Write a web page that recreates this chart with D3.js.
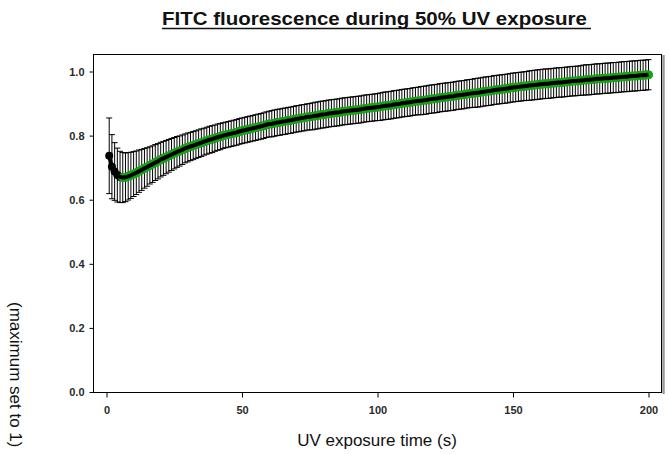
<!DOCTYPE html>
<html lang="en">
<head>
  <meta charset="UTF-8" />
  <title>FITC fluorescence</title>
  <script src="https://cdn.jsdelivr.net/npm/d3@7"></script>
  <style>
    body { margin: 0; background: #fff; }
    text { font-family: "Liberation Sans", Arial, sans-serif; }
  </style>
</head>
<body>
  <div id="chart"></div>
  <script>
    // mean fluorescence (normalised), one value per second, t = 1..200
    var means = [
      0.737, 0.703, 0.688, 0.677, 0.671, 0.669, 0.670, 0.673, 0.676, 0.680,
      0.684, 0.689, 0.693, 0.698, 0.702, 0.707, 0.711, 0.716, 0.720, 0.725,
      0.729, 0.733, 0.737, 0.741, 0.745, 0.749, 0.752, 0.756, 0.760, 0.763,
      0.766, 0.769, 0.772, 0.775, 0.778, 0.781, 0.784, 0.787, 0.789, 0.792,
      0.795, 0.797, 0.800, 0.802, 0.804, 0.806, 0.808, 0.810, 0.813, 0.815,
      0.817, 0.819, 0.821, 0.823, 0.825, 0.827, 0.829, 0.831, 0.834, 0.836,
      0.837, 0.839, 0.841, 0.842, 0.844, 0.845, 0.847, 0.848, 0.850, 0.852,
      0.853, 0.855, 0.856, 0.858, 0.859, 0.860, 0.862, 0.863, 0.865, 0.866,
      0.867, 0.869, 0.870, 0.871, 0.872, 0.873, 0.875, 0.876, 0.877, 0.878,
      0.879, 0.880, 0.881, 0.882, 0.884, 0.885, 0.886, 0.887, 0.888, 0.889,
      0.890, 0.892, 0.893, 0.894, 0.895, 0.897, 0.898, 0.899, 0.901, 0.902,
      0.903, 0.904, 0.906, 0.907, 0.908, 0.909, 0.910, 0.911, 0.913, 0.914,
      0.915, 0.916, 0.918, 0.919, 0.920, 0.921, 0.922, 0.923, 0.925, 0.926,
      0.927, 0.928, 0.930, 0.931, 0.932, 0.933, 0.934, 0.935, 0.937, 0.938,
      0.939, 0.940, 0.942, 0.943, 0.944, 0.945, 0.946, 0.947, 0.949, 0.950,
      0.951, 0.952, 0.953, 0.954, 0.955, 0.956, 0.957, 0.958, 0.959, 0.960,
      0.961, 0.962, 0.962, 0.963, 0.964, 0.965, 0.966, 0.966, 0.967, 0.968,
      0.969, 0.970, 0.970, 0.971, 0.972, 0.973, 0.974, 0.974, 0.975, 0.976,
      0.977, 0.977, 0.978, 0.979, 0.979, 0.980, 0.981, 0.981, 0.982, 0.983,
      0.984, 0.984, 0.985, 0.986, 0.986, 0.987, 0.988, 0.988, 0.989, 0.990
    ];

    // standard deviation for each point
    var sds = [
      0.118, 0.100, 0.090, 0.084, 0.080, 0.078, 0.076, 0.074, 0.072, 0.070,
      0.068, 0.066, 0.064, 0.062, 0.060, 0.058, 0.057, 0.056, 0.055, 0.054,
      0.053, 0.052, 0.051, 0.050, 0.049, 0.048, 0.047, 0.046, 0.045, 0.045,
      0.044, 0.044, 0.043, 0.043, 0.043, 0.042, 0.042, 0.042, 0.042, 0.041,
      0.041, 0.041, 0.040, 0.040, 0.040, 0.040, 0.040, 0.040, 0.040, 0.040,
      0.040, 0.040, 0.040, 0.040, 0.040, 0.040, 0.040, 0.040, 0.040, 0.040,
      0.041, 0.041, 0.041, 0.041, 0.041, 0.041, 0.041, 0.041, 0.041, 0.041,
      0.041, 0.041, 0.041, 0.041, 0.041, 0.042, 0.042, 0.042, 0.042, 0.042,
      0.042, 0.042, 0.042, 0.042, 0.042, 0.042, 0.042, 0.042, 0.042, 0.042,
      0.042, 0.042, 0.042, 0.042, 0.042, 0.042, 0.042, 0.042, 0.042, 0.042,
      0.043, 0.043, 0.043, 0.043, 0.043, 0.043, 0.043, 0.043, 0.043, 0.043,
      0.043, 0.043, 0.043, 0.043, 0.043, 0.044, 0.044, 0.044, 0.044, 0.044,
      0.044, 0.044, 0.044, 0.044, 0.044, 0.044, 0.044, 0.044, 0.044, 0.044,
      0.044, 0.044, 0.044, 0.044, 0.044, 0.045, 0.045, 0.045, 0.045, 0.045,
      0.045, 0.045, 0.045, 0.045, 0.045, 0.045, 0.045, 0.045, 0.045, 0.045,
      0.045, 0.045, 0.045, 0.045, 0.045, 0.046, 0.046, 0.046, 0.046, 0.046,
      0.046, 0.046, 0.046, 0.046, 0.046, 0.046, 0.046, 0.046, 0.046, 0.046,
      0.046, 0.046, 0.046, 0.046, 0.046, 0.047, 0.047, 0.047, 0.047, 0.047,
      0.047, 0.047, 0.047, 0.047, 0.047, 0.047, 0.047, 0.047, 0.047, 0.047,
      0.047, 0.047, 0.047, 0.047, 0.047, 0.047, 0.047, 0.047, 0.047, 0.047
    ];

    var fitStart = 6; // green fit line starts at t = 6 s
    var xTicks = [0, 50, 100, 150, 200];
    var yTicks = [0.0, 0.2, 0.4, 0.6, 0.8, 1.0];

    var data = means.map(function(m, i) {
      return { t: i + 1, v: m, sd: sds[i] };
    });

    var w = 670;
    var h = 454;
    // plot frame
    var fl = 93, fr = 661, ft = 54, fb = 392;

    var svg = d3.select("#chart")
      .append("svg")
      .attr("width", w)
      .attr("height", h);

    var x = d3.scaleLinear().domain([0, 200]).range([106.5, 648.5]);
    var y = d3.scaleLinear().domain([0, 1]).range([392, 71.5]);

    // title
    svg.append("text")
      .attr("x", 162)
      .attr("y", 25)
      .attr("font-size", "19px")
      .attr("font-weight", "bold")
      .attr("fill", "#111")
      .attr("textLength", 425)
      .attr("lengthAdjust", "spacingAndGlyphs")
      .text("FITC fluorescence during 50% UV exposure");
    svg.append("line")
      .attr("x1", 162).attr("x2", 591)
      .attr("y1", 28.5).attr("y2", 28.5)
      .attr("stroke", "#111")
      .attr("stroke-width", 1.5);

    // frame, with grey shadow on the right
    svg.append("line")
      .attr("x1", fr + 2.5).attr("x2", fr + 2.5)
      .attr("y1", ft + 1).attr("y2", fb + 2)
      .attr("stroke", "#999")
      .attr("stroke-width", 2.5);
    svg.append("rect")
      .attr("x", fl + 0.5).attr("y", ft + 0.5)
      .attr("width", fr - fl).attr("height", fb - ft)
      .attr("fill", "none")
      .attr("stroke", "#000")
      .attr("stroke-width", 1);

    // axes
    var xAxis = d3.axisBottom(x).tickValues(xTicks).tickSize(5).tickPadding(9)
      .tickFormat(d3.format("d"));
    var gx = svg.append("g")
      .attr("transform", "translate(0," + (fb + 0.5) + ")")
      .call(xAxis);
    gx.select(".domain").remove();

    var yAxis = d3.axisLeft(y).tickValues(yTicks).tickSize(4).tickPadding(5)
      .tickFormat(d3.format(".1f"));
    var gy = svg.append("g")
      .attr("transform", "translate(" + (fl + 0.5) + ",0)")
      .call(yAxis);
    gy.select(".domain").remove();

    svg.selectAll(".tick text")
      .attr("font-family", "'Liberation Sans', Arial, sans-serif")
      .attr("font-size", "11px")
      .attr("font-weight", "bold")
      .attr("fill", "#2a2a2a");
    svg.selectAll(".tick line").attr("stroke", "#000");

    // axis titles
    svg.append("text")
      .attr("x", 377)
      .attr("y", 446)
      .attr("text-anchor", "middle")
      .attr("font-size", "17px")
      .attr("fill", "#111")
      .text("UV exposure time (s)");
    svg.append("text")
      .attr("transform", "translate(10,302) rotate(90)")
      .attr("font-size", "17px")
      .attr("fill", "#111")
      .text("(maximum set to 1)");

    // error bars
    var bars = svg.append("g").attr("stroke", "#000").attr("stroke-width", 1);
    bars.selectAll(".ebar")
      .data(data)
      .enter()
      .append("line")
      .attr("class", "ebar")
      .attr("x1", function(d) { return x(d.t); })
      .attr("x2", function(d) { return x(d.t); })
      .attr("y1", function(d) { return y(d.v + d.sd); })
      .attr("y2", function(d) { return y(d.v - d.sd); });
    bars.selectAll(".capTop")
      .data(data)
      .enter()
      .append("line")
      .attr("x1", function(d) { return x(d.t) - 3; })
      .attr("x2", function(d) { return x(d.t) + 3; })
      .attr("y1", function(d) { return y(d.v + d.sd); })
      .attr("y2", function(d) { return y(d.v + d.sd); });
    bars.selectAll(".capBot")
      .data(data)
      .enter()
      .append("line")
      .attr("x1", function(d) { return x(d.t) - 3; })
      .attr("x2", function(d) { return x(d.t) + 3; })
      .attr("y1", function(d) { return y(d.v - d.sd); })
      .attr("y2", function(d) { return y(d.v - d.sd); });

    // markers
    svg.append("g").selectAll("circle")
      .data(data)
      .enter()
      .append("circle")
      .attr("cx", function(d) { return x(d.t); })
      .attr("cy", function(d) { return y(d.v); })
      .attr("r", 4)
      .attr("fill", "#000");

    var line = d3.line()
      .x(function(d) { return x(d.t); })
      .y(function(d) { return y(d.v); });

    // green fit
    svg.append("path")
      .datum(data.filter(function(d) { return d.t >= fitStart; }))
      .attr("d", line)
      .attr("fill", "none")
      .attr("stroke", "#14a514")
      .attr("stroke-width", 9)
      .attr("stroke-linecap", "round");

    // black data line
    svg.append("path")
      .datum(data)
      .attr("d", line)
      .attr("fill", "none")
      .attr("stroke", "#000")
      .attr("stroke-width", 4);
  </script>
</body>
</html>
